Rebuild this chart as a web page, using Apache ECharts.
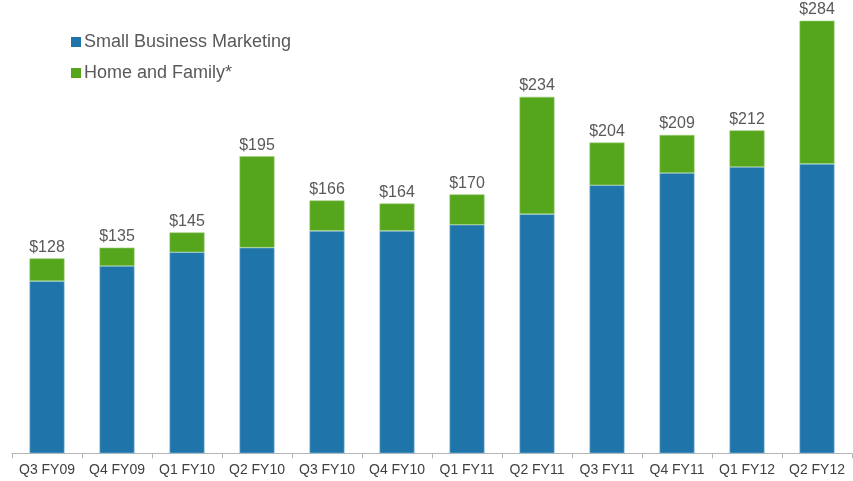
<!DOCTYPE html>
<html>
<head>
<meta charset="utf-8">
<script src="https://cdn.jsdelivr.net/npm/echarts@6/dist/echarts.min.js"></script>
<style>
  html, body { margin: 0; padding: 0; background: #ffffff; }
  #chart { width: 853px; height: 481px; }
</style>
</head>
<body>
<div id="chart"></div>
<script>
// Quarterly revenue ($M) by segment
const quarters = ['Q3 FY09', 'Q4 FY09', 'Q1 FY10', 'Q2 FY10', 'Q3 FY10', 'Q4 FY10',
                  'Q1 FY11', 'Q2 FY11', 'Q3 FY11', 'Q4 FY11', 'Q1 FY12', 'Q2 FY12'];
const smallBusiness = [113, 123, 132, 135, 146, 146, 150, 157, 176, 184, 188, 190];
const homeFamily    = [15, 12, 13, 60, 20, 18, 20, 77, 28, 25, 24, 94];
const totals = smallBusiness.map((v, i) => v + homeFamily[i]);

const chart = echarts.init(document.getElementById('chart'));
const fontFamily = 'Liberation Sans, Arial, sans-serif';

chart.setOption({
  animation: false,
  textStyle: { fontFamily: fontFamily },
  grid: { left: 12, right: 1, top: 20.7, bottom: 27.7 },
  legend: {
    orient: 'vertical',
    left: 66,
    top: 28,
    itemWidth: 10,
    itemHeight: 10,
    itemGap: 13,
    icon: 'rect',
    itemStyle: { borderWidth: 0 },
    textStyle: { fontSize: 18, color: '#595959', fontFamily: fontFamily, padding: [0, 0, 0, -2] },
    data: ['Small Business Marketing', 'Home and Family*']
  },
  xAxis: {
    type: 'category',
    data: quarters,
    boundaryGap: true,
    axisLine: { lineStyle: { color: '#b5b5b5', width: 1 } },
    axisTick: { show: true, length: 5, lineStyle: { color: '#b5b5b5' } },
    axisLabel: { color: '#404040', fontSize: 14, margin: 10, interval: 0, fontFamily: fontFamily }
  },
  yAxis: {
    type: 'value',
    min: 0,
    max: 284,
    show: false,
    splitLine: { show: false }
  },
  series: [
    {
      name: 'Small Business Marketing',
      type: 'bar',
      stack: 'rev',
      barWidth: 35,
      data: smallBusiness,
      itemStyle: { color: '#1f74a9', borderColor: '#8fc0dd', borderWidth: 0.6 }
    },
    {
      name: 'Home and Family*',
      type: 'bar',
      stack: 'rev',
      barWidth: 35,
      data: homeFamily,
      itemStyle: { color: '#55a51d', borderColor: '#9fd07a', borderWidth: 0.6 },
      label: {
        show: true,
        position: 'top',
        distance: 3,
        color: '#595959',
        fontSize: 16,
        fontFamily: fontFamily,
        formatter: p => '$' + totals[p.dataIndex]
      }
    }
  ]
});
</script>
</body>
</html>
